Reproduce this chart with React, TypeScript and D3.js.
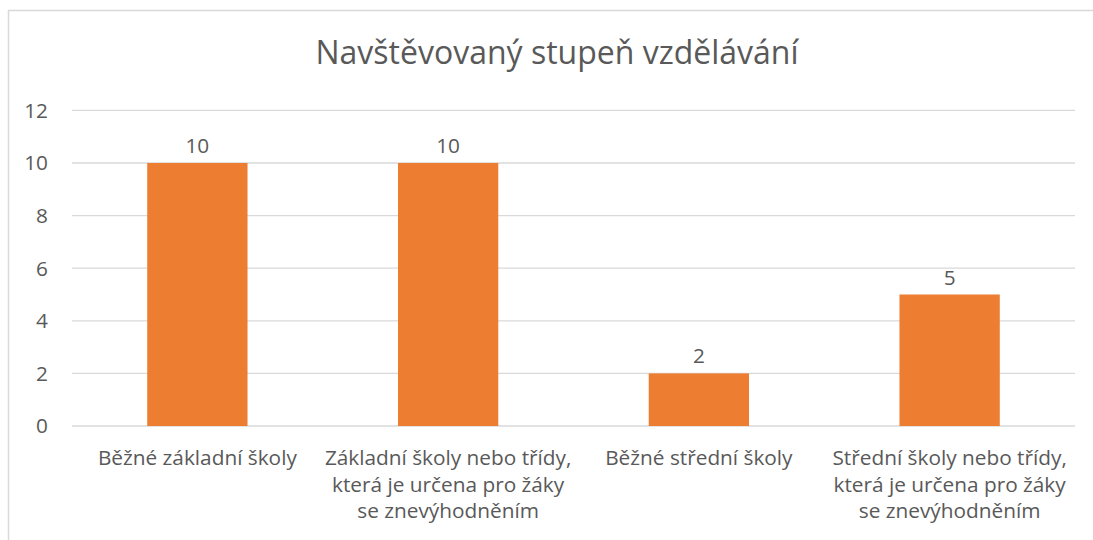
import React, { useEffect, useRef } from "react";
import * as d3 from "d3";

const title = "Navštěvovaný stupeň vzdělávání";
const categories = [
  ["Běžné základní školy"],
  ["Základní školy nebo třídy,", "která je určena pro žáky", "se znevýhodněním"],
  ["Běžné střední školy"],
  ["Střední školy nebo třídy,", "která je určena pro žáky", "se znevýhodněním"],
];
const values = [10, 10, 2, 5];
const yTicks = [0, 2, 4, 6, 8, 10, 12];

const W = 1093, H = 540;
const FONT = "'Open Sans', Lato, sans-serif";
const TEXT = "#595959";

export default function App() {
  const ref = useRef<SVGSVGElement>(null);
  useEffect(() => {
    const svg = d3.select(ref.current);
    svg.selectAll("*").remove();
    const x0 = 72, x1 = 1075, yTop = 110.4, yBot = 426;
    const x = d3.scaleBand<number>().domain(d3.range(categories.length)).range([x0, x1]).paddingInner(0.6).paddingOuter(0.3);
    const y = d3.scaleLinear().domain([0, 12]).range([yBot, yTop]);

    svg.append("rect").attr("x", 8.5).attr("y", 10.5).attr("width", 1100).attr("height", 540)
      .attr("fill", "white").attr("stroke", "#d9d9d9").attr("stroke-width", 1.5);

    svg.append("text").attr("x", 557).attr("y", 64).attr("text-anchor", "middle")
      .attr("font-family", FONT).attr("font-size", 32).attr("fill", TEXT).text(title);

    svg.append("g").selectAll("line").data(yTicks).join("line")
      .attr("x1", x0).attr("x2", x1).attr("y1", d => y(d)).attr("y2", d => y(d))
      .attr("stroke", "#d9d9d9").attr("stroke-width", 1.3);

    svg.append("g").selectAll("text").data(yTicks).join("text")
      .attr("x", 48).attr("y", d => y(d)).attr("dy", "0.36em").attr("text-anchor", "end")
      .attr("font-family", FONT).attr("font-size", 20.8).attr("fill", TEXT).text(d => d);

    svg.append("g").selectAll("rect").data(values).join("rect")
      .attr("x", (_, i) => x(i)!).attr("width", x.bandwidth())
      .attr("y", d => y(d)).attr("height", d => yBot - y(d)).attr("fill", "#ED7D31");

    svg.append("g").selectAll("text").data(values).join("text")
      .attr("x", (_, i) => x(i)! + x.bandwidth() / 2).attr("y", d => y(d) - 10)
      .attr("text-anchor", "middle").attr("font-family", FONT).attr("font-size", 20.8)
      .attr("fill", TEXT).text(d => d);

    const lab = svg.append("g").selectAll("text").data(categories).join("text")
      .attr("text-anchor", "middle").attr("font-family", FONT).attr("font-size", 20.8).attr("fill", TEXT);
    lab.each(function (lines, i) {
      const cx = x(i)! + x.bandwidth() / 2;
      d3.select(this).selectAll("tspan").data(lines).join("tspan")
        .attr("x", cx).attr("y", (_, j) => 465 + j * 26.5).text(d => d);
    });
  }, []);
  return <svg ref={ref} width={W} height={H} style={{ position: "absolute", left: 0, top: 0 }} />;
}
